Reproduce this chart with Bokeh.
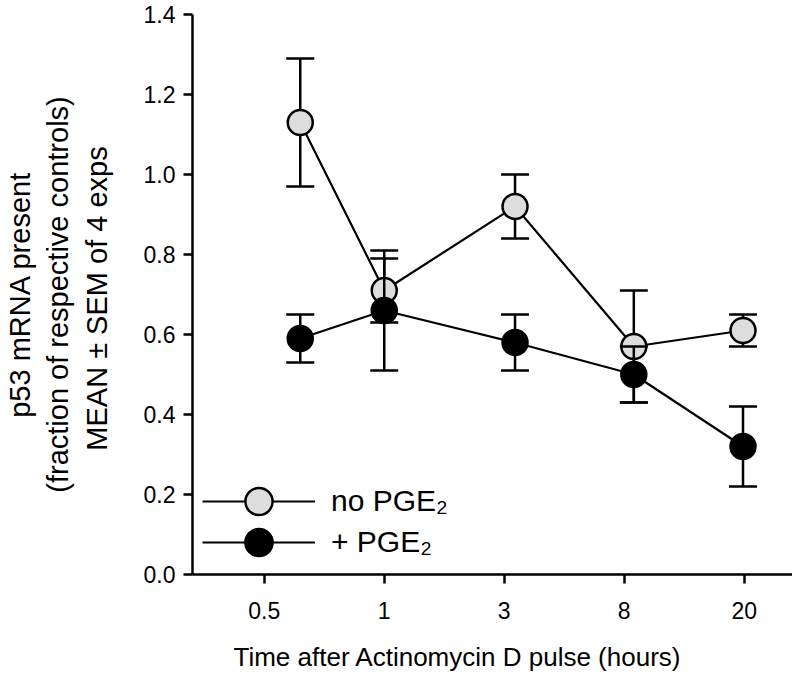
from bokeh.plotting import figure
from bokeh.models import Range1d, FixedTicker, Legend, LegendItem, Title
from bokeh.embed import file_html
from bokeh.resources import INLINE

# ---- data ----
hour_labels = ["0.5", "1", "3", "8", "20"]
sample_x = [0.30, 1.00, 2.09, 3.08, 3.99]          # sampling positions on the category axis
no_pge2_mean = [1.13, 0.71, 0.92, 0.57, 0.61]
no_pge2_sem = [0.16, 0.08, 0.08, 0.14, 0.04]
pge2_mean = [0.59, 0.66, 0.58, 0.50, 0.32]
pge2_sem = [0.06, 0.15, 0.07, 0.07, 0.10]
y_ticks = [0.0, 0.2, 0.4, 0.6, 0.8, 1.0, 1.2, 1.4]

FONT = "Liberation Sans"
GREY = "#dddddd"

p = figure(width=792, height=692,
           x_range=Range1d(-0.598, 4.4025), y_range=Range1d(0, 1.4),
           min_border_left=192, min_border_right=0,
           min_border_top=14, min_border_bottom=118,
           output_backend="svg", toolbar_location=None)
p.outline_line_color = None
p.xgrid.visible = False
p.ygrid.visible = False
p.background_fill_color = "white"
p.border_fill_color = "white"

def series(mean, sem, fill, label):
    upper = [m + s for m, s in zip(mean, sem)]
    lower = [m - s for m, s in zip(mean, sem)]
    p.segment(x0=sample_x, y0=lower, x1=sample_x, y1=upper,
              line_color="black", line_width=2.5)
    p.scatter(x=sample_x + sample_x, y=upper + lower, marker="dash",
              size=28, line_color="black", line_width=2.5)
    ln = p.line(x=sample_x, y=mean, line_color="black", line_width=2.2)
    pts = p.scatter(x=sample_x, y=mean, marker="circle", size=25,
                    fill_color=fill, line_color="black", line_width=2.5)
    return LegendItem(label=label, renderers=[ln, pts])

item_no = series(no_pge2_mean, no_pge2_sem, GREY, "no PGE\u2082")
item_plus = series(pge2_mean, pge2_sem, "black", "+ PGE\u2082")

for item, loc in ((item_no, (10, 39)), (item_plus, (10, -2))):
    lg = Legend(items=[item], location=loc,
                glyph_width=113, glyph_height=68,
                padding=0, margin=0, label_standoff=16,
                border_line_color=None, background_fill_alpha=0,
                label_text_font=FONT, label_text_font_size="30px",
                label_text_color="black")
    p.add_layout(lg)

# ---- axes ----
for ax in (p.xaxis[0], p.yaxis[0]):
    ax.axis_line_width = 2.5
    ax.axis_line_color = "black"
    ax.major_tick_line_width = 2.5
    ax.major_tick_line_color = "black"
    ax.major_tick_out = 9
    ax.major_tick_in = 0
    ax.minor_tick_line_color = None
    ax.major_label_text_font = FONT
    ax.major_label_text_font_size = "23px"
    ax.major_label_text_color = "black"
    ax.axis_label_text_font = FONT
    ax.axis_label_text_font_style = "normal"
    ax.axis_label_text_color = "black"

p.xaxis.ticker = FixedTicker(ticks=list(range(len(hour_labels))))
p.xaxis.major_label_overrides = {i: lab for i, lab in enumerate(hour_labels)}
p.xaxis.major_label_standoff = 18

xtitle = Title(text="Time after Actinomycin D pulse (hours)", align="left",
               offset=41, standoff=36, text_font=FONT, text_font_size="26px",
               text_font_style="normal", text_color="black")
p.add_layout(xtitle, "below")

p.yaxis.ticker = FixedTicker(ticks=y_ticks)
p.yaxis.major_label_overrides = {t: f"{t:.1f}" for t in y_ticks}
p.yaxis.major_label_standoff = 8
p.yaxis.axis_label = "p53 mRNA present\n(fraction of respective controls)\nMEAN \u00b1 SEM of  4 exps"
p.yaxis.axis_label_text_font_size = "29px"
p.yaxis.axis_label_standoff = 28

open("out.html", "w").write(file_html(p, INLINE))
